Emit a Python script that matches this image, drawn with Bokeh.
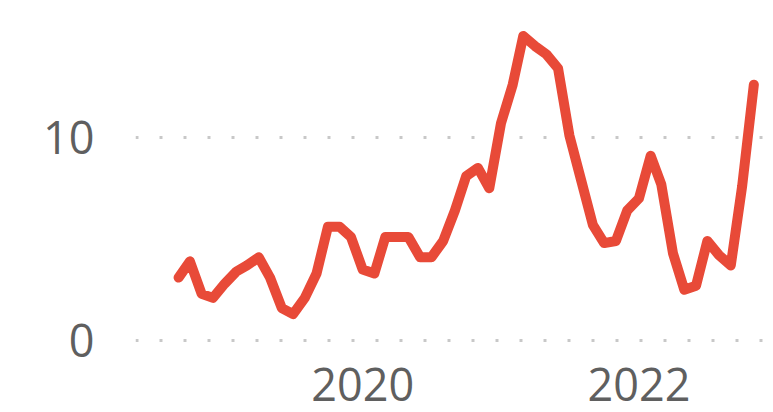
import numpy as np
import pandas as pd
from bokeh.plotting import figure
from bokeh.models import FixedTicker, DatetimeTickFormatter, Range1d
from bokeh.embed import file_html
from bokeh.resources import INLINE

start_month = "2018-09"
values = [3.1, 3.9, 2.3, 2.1, 2.8, 3.4, 3.7, 4.1, 3.1, 1.6,
          1.3, 2.1, 3.3, 5.6, 5.6, 5.1, 3.5, 3.3, 5.1, 5.1,
          5.1, 4.1, 4.1, 4.9, 6.4, 8.1, 8.5, 7.5, 10.7, 12.6,
          15.0, 14.5, 14.1, 13.4, 10.1, 7.9, 5.7, 4.8, 4.9, 6.4,
          7.0, 9.1, 7.7, 4.3, 2.5, 2.7, 4.9, 4.2, 3.7, 7.6, 12.6]
x_tick_labels = ["2020", "2022"]
y_ticks = [0, 10]

dates = pd.date_range(start_month + "-01", periods=len(values), freq="MS")

def ms(ts):
    return pd.Timestamp(ts).value / 1e6

x_start = ms("2018-05-10")
x_end = ms("2022-12-23")

p = figure(x_axis_type="datetime", output_backend="svg", toolbar_location=None,
           frame_width=638, frame_height=330,
           min_border_left=135, min_border_right=0, min_border_top=20, min_border_bottom=0,
           x_range=Range1d(x_start, x_end), y_range=Range1d(-0.49, 15.76))

p.line(dates, values, line_color="#E84A38", line_width=10,
       line_join="round", line_cap="round")

p.outline_line_color = None
p.background_fill_color = "white"
p.border_fill_color = "white"

p.xaxis.ticker = FixedTicker(ticks=[ms(y + "-01-01") for y in x_tick_labels])
p.xaxis.formatter = DatetimeTickFormatter(years="%Y", months="%Y", days="%Y")
p.yaxis.ticker = FixedTicker(ticks=y_ticks)

for ax in (p.xaxis, p.yaxis):
    ax.axis_line_color = None
    ax.major_tick_line_color = None
    ax.minor_tick_line_color = None
    ax.major_label_text_font = "Open Sans"
    ax.major_label_text_font_size = "45px"
    ax.major_label_text_color = "#5f5f5f"

p.yaxis.major_label_standoff = 35
p.xaxis.major_label_standoff = 11

p.xgrid.grid_line_color = None
p.ygrid.grid_line_color = "#c8c8c8"
p.ygrid.grid_line_width = 3
p.ygrid.grid_line_dash = "3 21"

open("out.html", "w").write(file_html(p, INLINE))
